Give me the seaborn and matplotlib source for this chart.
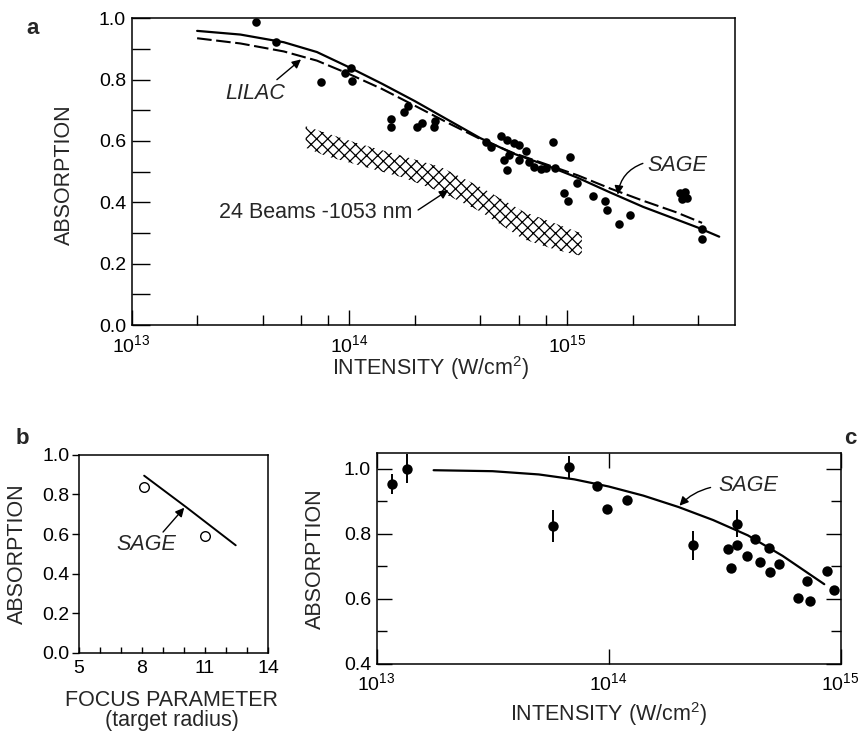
import matplotlib
matplotlib.use("Agg")
import matplotlib.pyplot as plt
import matplotlib.ticker as mticker
import numpy as np
import pandas as pd
import seaborn as sns

# panel a: measured absorption vs intensity
a_int = [3.73e13, 4.63e13, 7.45e13, 9.55e13, 1.02e14, 1.03e14, 1.55e14, 1.55e14,
         1.79e14, 1.87e14, 2.05e14, 2.16e14, 2.48e14, 2.44e14, 4.23e14, 4.46e14,
         4.95e14, 5.32e14, 5.71e14, 6.03e14, 6.47e14, 5.14e14, 5.32e14, 5.42e14,
         6.03e14, 6.70e14, 7.06e14, 7.59e14, 8.0e14, 8.83e14, 8.59e14, 1.03e15,
         1.11e15, 9.73e14, 1.01e15, 1.32e15, 1.50e15, 1.52e15, 1.73e15, 1.95e15,
         3.30e15, 3.39e15, 3.47e15, 3.55e15, 4.15e15, 4.15e15]
a_abs = [0.989, 0.924, 0.793, 0.823, 0.837, 0.796, 0.672, 0.647,
         0.696, 0.714, 0.647, 0.658, 0.664, 0.647, 0.598, 0.582,
         0.615, 0.604, 0.593, 0.587, 0.566, 0.538, 0.505, 0.555,
         0.538, 0.533, 0.516, 0.509, 0.511, 0.513, 0.596, 0.547,
         0.462, 0.429, 0.405, 0.421, 0.405, 0.374, 0.328, 0.358,
         0.43, 0.41, 0.435, 0.415, 0.314, 0.279]

sage_a_x = [2.0e13, 3.16e13, 5.0e13, 7.1e13, 1.0e14, 1.41e14, 2.0e14, 2.82e14,
            3.98e14, 5.62e14, 7.94e14, 1.12e15, 1.58e15, 2.24e15, 3.16e15,
            3.98e15, 5.0e15]
sage_a_y = [0.959, 0.947, 0.922, 0.890, 0.840, 0.787, 0.730, 0.670,
            0.610, 0.560, 0.522, 0.480, 0.432, 0.385, 0.345,
            0.318, 0.288]
lilac_x = [2.0e13, 3.16e13, 5.0e13, 7.1e13, 1.0e14, 1.41e14, 2.0e14, 2.82e14,
           3.98e14, 5.62e14, 7.94e14, 1.12e15, 1.58e15, 2.24e15, 3.16e15, 4.17e15]
lilac_y = [0.935, 0.918, 0.892, 0.862, 0.818, 0.770, 0.715, 0.660,
           0.607, 0.562, 0.525, 0.488, 0.445, 0.405, 0.368, 0.333]

band_x = [6.3e13, 7.9e13, 1.12e14, 1.78e14, 2.63e14, 4.0e14, 6.3e14, 8.9e14, 1.17e15]
band_hi = [0.648, 0.625, 0.59, 0.55, 0.515, 0.45, 0.37, 0.33, 0.298]
band_lo = [0.578, 0.55, 0.52, 0.48, 0.434, 0.37, 0.28, 0.245, 0.225]

# panel b: focus parameter
b_focus = [8.1, 11.0]
b_abs = [0.84, 0.59]
sage_b_x = [8.1, 10.1, 12.46]
sage_b_y = [0.895, 0.736, 0.543]

# panel c: measured absorption vs intensity
c_int = [1.16e13, 1.35e13, 5.73e13, 6.76e13, 8.9e13, 9.8e13, 1.2e14, 2.32e14,
         3.56e14, 3.26e14, 3.59e14, 3.37e14, 3.94e14, 4.26e14, 4.91e14, 4.51e14,
         4.95e14, 5.41e14, 6.52e14, 7.40e14, 7.14e14, 8.71e14, 9.33e14]
c_abs = [0.953, 1.0, 0.824, 1.005, 0.946, 0.877, 0.904, 0.764,
         0.831, 0.752, 0.764, 0.696, 0.733, 0.785, 0.757, 0.713,
         0.681, 0.706, 0.604, 0.594, 0.655, 0.686, 0.628]
c_err_int = [1.16e13, 1.35e13, 5.73e13, 6.76e13, 2.32e14, 3.56e14]
c_err_abs = [0.953, 1.0, 0.824, 1.005, 0.764, 0.831]
c_err = [0.031, 0.045, 0.05, 0.035, 0.044, 0.041]

sage_c_x = [1.76e13, 3.16e13, 5.0e13, 7.1e13, 1.0e14, 1.41e14, 2.0e14,
            2.82e14, 3.98e14, 5.62e14, 8.5e14]
sage_c_y = [0.995, 0.992, 0.982, 0.967, 0.945, 0.917, 0.882,
            0.842, 0.795, 0.732, 0.645]

sns.set_theme(style="ticks")
plt.rcParams["font.family"] = ["Liberation Sans", "DejaVu Sans"]
plt.rcParams["mathtext.fontset"] = "custom"
plt.rcParams["mathtext.rm"] = "Liberation Sans"
plt.rcParams["mathtext.it"] = "Liberation Sans:italic"
plt.rcParams["hatch.linewidth"] = 0.9
plt.rcParams["axes.linewidth"] = 1.1
plt.rcParams["axes.edgecolor"] = "black"
plt.rcParams["xtick.color"] = "black"
plt.rcParams["ytick.color"] = "black"

TICK = 14
LAB = 15.5
ANN = 15.5

fig = plt.figure(figsize=(8.6, 7.38), dpi=100)
ax_a = fig.add_axes([0.153, 0.5596, 0.7015, 0.4156])
ax_b = fig.add_axes([0.0919, 0.1156, 0.2198, 0.268])
ax_c = fig.add_axes([0.438, 0.1003, 0.5395, 0.2855])

arrow = dict(arrowstyle="-|>", color="black", lw=1.0, mutation_scale=13,
             shrinkA=0, shrinkB=0)

# ---- panel a
ax = ax_a
ax.set_xscale("log")
ax.fill_between(band_x, band_lo, band_hi, facecolor="none", edgecolor="black",
                hatch="xxx", linewidth=0)
sns.lineplot(x=sage_a_x, y=sage_a_y, ax=ax, color="black", lw=1.6, sort=False)
ax.plot(lilac_x, lilac_y, color="black", lw=1.5, dashes=(7, 2.2))
sns.scatterplot(x=a_int, y=a_abs, ax=ax, color="black", s=38, edgecolor="black",
                linewidth=0, zorder=5)
ax.set_xlim(1e13, 5.9e15)
ax.set_ylim(0, 1.0)
ax.set_xticks([1e13, 1e14, 1e15], labels=[r"$10^{13}$", r"$10^{14}$", r"$10^{15}$"])
ax.xaxis.set_minor_locator(mticker.LogLocator(base=10, subs=[2, 4, 6, 8], numticks=20))
ax.xaxis.set_minor_formatter(mticker.NullFormatter())
ax.set_yticks(np.arange(0, 1.01, 0.2), labels=["0.0", "0.2", "0.4", "0.6", "0.8", "1.0"])
ax.yaxis.set_minor_locator(mticker.MultipleLocator(0.1))
ax.tick_params(axis="both", which="both", direction="in", labelsize=TICK, width=1.0)
ax.tick_params(axis="x", which="major", length=11, pad=6.5)
ax.tick_params(axis="x", which="minor", length=7)
ax.tick_params(axis="y", which="both", length=13, pad=4)
ax.set_xlabel(r"INTENSITY (W/cm$^2$)", fontsize=LAB)
ax.set_ylabel("ABSORPTION", fontsize=LAB)
ax.xaxis.set_label_coords(0.495, -0.095)
ax.yaxis.set_label_coords(-0.094, 0.49)
ax.text(3.7e13, 0.755, "LILAC", style="italic", fontsize=ANN, ha="center", va="center")
ax.annotate("", xy=(6.0e13, 0.866), xytext=(4.65e13, 0.80), arrowprops=arrow)
ax.text(7.0e13, 0.367, "24 Beams -1053 nm", fontsize=ANN, ha="center", va="center")
ax.annotate("", xy=(2.85e14, 0.44), xytext=(2.07e14, 0.375), arrowprops=arrow)
ax.text(3.2e15, 0.52, "SAGE", style="italic", fontsize=ANN, ha="center", va="center")
ax.annotate("", xy=(1.71e15, 0.425), xytext=(2.23e15, 0.527),
            arrowprops=dict(arrow, connectionstyle="arc3,rad=0.3"))

# ---- panel b
ax = ax_b
sns.lineplot(x=sage_b_x, y=sage_b_y, ax=ax, color="black", lw=1.4, sort=False)
sns.scatterplot(x=b_focus, y=b_abs, ax=ax, color="white", s=48, edgecolor="black",
                linewidth=1.0, zorder=5)
ax.set_xlim(5, 14)
ax.set_ylim(0, 1.0)
ax.set_xticks([5, 8, 11, 14])
ax.xaxis.set_minor_locator(mticker.MultipleLocator(1))
ax.set_yticks(np.arange(0, 1.01, 0.2), labels=["0.0", "0.2", "0.4", "0.6", "0.8", "1.0"])
ax.tick_params(axis="both", labelsize=TICK, width=1.0)
ax.tick_params(axis="x", which="both", direction="in", length=4, pad=5)
ax.tick_params(axis="y", which="major", direction="out", length=5, pad=2)
ax.set_xlabel("FOCUS PARAMETER\n(target radius)", fontsize=LAB, linespacing=0.95)
ax.set_ylabel("ABSORPTION", fontsize=LAB)
ax.xaxis.set_label_coords(0.49, -0.19)
ax.yaxis.set_label_coords(-0.268, 0.5)
ax.text(8.2, 0.548, "SAGE", style="italic", fontsize=ANN, ha="center", va="center")
ax.annotate("", xy=(10.01, 0.733), xytext=(9.0, 0.61), arrowprops=arrow)

# ---- panel c
ax = ax_c
ax.set_xscale("log")
sns.lineplot(x=sage_c_x, y=sage_c_y, ax=ax, color="black", lw=1.6, sort=False)
ax.vlines(c_err_int, np.array(c_err_abs) - np.array(c_err),
          np.array(c_err_abs) + np.array(c_err), color="black", lw=1.4, zorder=4)
sns.scatterplot(x=c_int, y=c_abs, ax=ax, color="black", s=56, edgecolor="black",
                linewidth=0, zorder=5)
ax.set_xlim(1e13, 1e15)
ax.set_ylim(0.4, 1.047)
ax.set_xticks([1e13, 1e14, 1e15], labels=[r"$10^{13}$", r"$10^{14}$", r"$10^{15}$"])
ax.xaxis.set_minor_locator(mticker.NullLocator())
ax.set_yticks([0.4, 0.6, 0.8, 1.0], labels=["0.4", "0.6", "0.8", "1.0"])
ax.yaxis.set_minor_locator(mticker.MultipleLocator(0.1))
ax.tick_params(axis="both", which="both", direction="in", labelsize=TICK, width=1.0,
               top=True, right=True)
ax.tick_params(axis="x", which="major", length=11, pad=6)
ax.tick_params(axis="y", which="major", length=11, pad=4)
ax.tick_params(axis="y", which="minor", length=7)
ax.set_xlabel(r"INTENSITY (W/cm$^2$)", fontsize=LAB)
ax.set_ylabel("ABSORPTION", fontsize=LAB)
ax.xaxis.set_label_coords(0.5, -0.17)
ax.yaxis.set_label_coords(-0.11, 0.5)
ax.text(4.0e14, 0.947, "SAGE", style="italic", fontsize=ANN, ha="center", va="center")
ax.annotate("", xy=(2.02e14, 0.886), xytext=(2.75e14, 0.942),
            arrowprops=dict(arrow, connectionstyle="arc3,rad=0.15"))

for a in (ax_a, ax_b, ax_c):
    for s in a.spines.values():
        s.set_visible(True)
        s.set_color("black")

fig.text(33 / 860, 1 - 28 / 738, "a", fontsize=16, fontweight="bold", ha="center", va="center")
fig.text(22 / 860, 1 - 438 / 738, "b", fontsize=16, fontweight="bold", ha="center", va="center")
fig.text(850 / 860, 1 - 438 / 738, "c", fontsize=16, fontweight="bold", ha="center", va="center")

fig.savefig("out.png", dpi=100, facecolor="white")
plt.close(fig)
